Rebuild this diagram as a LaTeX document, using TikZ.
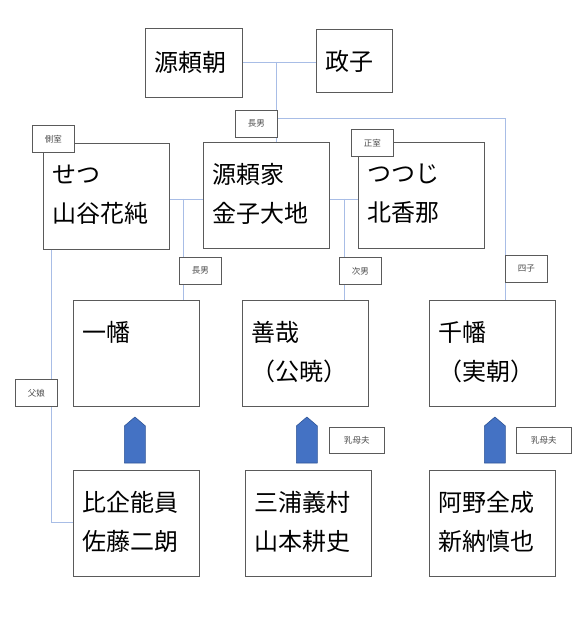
\documentclass[tikz,border=0pt]{standalone}
\usepackage{fontspec}
\setmainfont{Noto Sans CJK JP}
\usetikzlibrary{calc}
\definecolor{boxline}{HTML}{5A5A5A}
\definecolor{relline}{HTML}{A8BDE6}
\definecolor{arrowfill}{HTML}{4472C4}
\definecolor{arrowedge}{HTML}{2F5597}
\begin{document}
\begin{tikzpicture}[x=1pt,y=-1pt,
  person/.style={draw=boxline,line width=0.8pt,fill=white,anchor=north west,inner sep=0pt,minimum width=126pt,minimum height=106pt},
  tag/.style={draw=boxline,line width=0.7pt,fill=white,anchor=north west,inner sep=0pt,minimum width=42pt,minimum height=27pt,font=\fontsize{8.5}{10}\selectfont,text=black!70},
  widetag/.style={tag,minimum width=55pt,minimum height=26pt},
  pname/.style={anchor=north west,inner sep=0pt,align=left,font=\fontsize{24}{39}\selectfont},
  rel/.style={draw=relline,line width=0.8pt},
  upmark/.style={fill=arrowfill,draw=arrowedge,line width=0.6pt,line join=round}]
\useasboundingbox[fill=white] (0,0) rectangle (586,617);

% top couple
\node[person,minimum width=97pt,minimum height=69pt] (yoritomo) at (145,28) {};
\node[person,minimum width=76pt,minimum height=63pt] (masako) at (316,29) {};
\node[pname,anchor=west] (t-yoritomo) at ($(yoritomo.west)+(9,0)$) {源頼朝};
\node[pname,anchor=west] (t-masako) at ($(masako.west)+(9,1)$) {政子};

% second row
\node[person] (setsu) at (43,143) {};
\node[person] (yoriie) at (203,142) {};
\node[person] (tsutsuji) at (358,142) {};
\node[pname] (t-setsu) at ($(setsu.north west)+(9,22)$) {せつ\\山谷花純};
\node[pname] (t-yoriie) at ($(yoriie.north west)+(9,21)$) {源頼家\\金子大地};
\node[pname] (t-tsutsuji) at ($(tsutsuji.north west)+(9,22)$) {つつじ\\北香那};

% third row
\node[person] (ichiman) at (73,300) {};
\node[person] (zenzai) at (242,300) {};
\node[person] (senman) at (429,300) {};
\node[pname] (t-ichiman) at ($(ichiman.north west)+(9,21)$) {一幡};
\node[pname] (t-zenzai) at ($(zenzai.north west)+(9,21)$) {善哉\\（公暁）};
\node[pname] (t-senman) at ($(senman.north west)+(9,21)$) {千幡\\（実朝）};

% fourth row
\node[person] (hiki) at (73,470) {};
\node[person] (miura) at (245,470) {};
\node[person] (ano) at (429,470) {};
\node[pname] (t-hiki) at ($(hiki.north west)+(9,21)$) {比企能員\\佐藤二朗};
\node[pname] (t-miura) at ($(miura.north west)+(9,21)$) {三浦義村\\山本耕史};
\node[pname] (t-ano) at ($(ano.north west)+(9,21)$) {阿野全成\\新納慎也};

% relation lines
\coordinate (m1) at (276,62);
\draw[rel] (yoritomo.east |- m1) -- (masako.west |- m1);
\draw[rel] (m1) -- (m1 |- yoriie.north);
\coordinate (m2) at (276,118);
\coordinate (m3) at (505,118);
\draw[rel] (m2) -- (m3) -- (m3 |- senman.north);
\coordinate (w1) at (183,199);
\draw[rel] (setsu.east |- w1) -- (yoriie.west |- w1);
\draw[rel] (w1) -- (w1 |- ichiman.north);
\coordinate (w2) at (344,199);
\draw[rel] (yoriie.east |- w2) -- (tsutsuji.west |- w2);
\draw[rel] (w2) -- (w2 |- zenzai.north);
\coordinate (w3) at (51,522);
\draw[rel] (w3 |- setsu.south) -- (w3) -- (hiki.west |- w3);

% foster arrows
\path[upmark] ($(hiki.north)+(-12,-7)$) -- ++(0,-37) -- ++(10.5,-9) -- ++(10.5,9) -- ++(0,37) -- cycle;
\path[upmark] ($(miura.north)+(-12,-7)$) -- ++(0,-37) -- ++(10.5,-9) -- ++(10.5,9) -- ++(0,37) -- cycle;
\path[upmark] ($(ano.north)+(-8,-7)$) -- ++(0,-37) -- ++(10.5,-9) -- ++(10.5,9) -- ++(0,37) -- cycle;

% tags
\node[tag] (tag-chonan1) at (235,110) {長男};
\node[tag] (tag-sokushitsu) at (32,125) {側室};
\node[tag] (tag-seishitsu) at (351,129) {正室};
\node[tag] (tag-chonan2) at (179,257) {長男};
\node[tag] (tag-jinan) at (339,257) {次男};
\node[tag] (tag-shishi) at (505,255) {四子};
\node[tag] (tag-fujo) at (15,379) {父娘};
\node[widetag] (tag-menoto1) at (329,427) {乳母夫};
\node[widetag] (tag-menoto2) at (516,427) {乳母夫};
\end{tikzpicture}
\end{document}
